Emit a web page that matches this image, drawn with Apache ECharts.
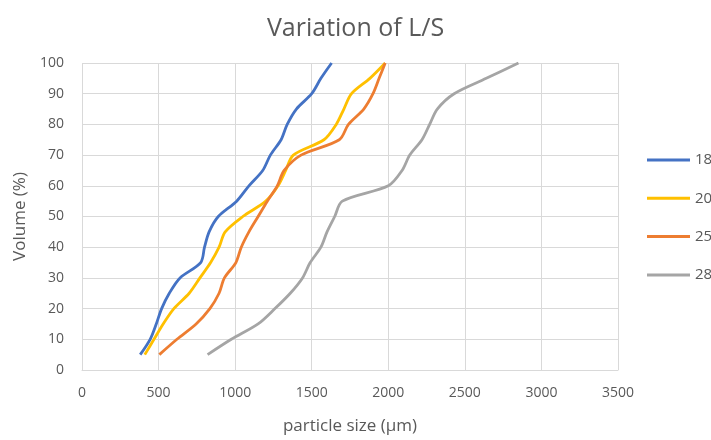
<!DOCTYPE html>
<html><head><meta charset="utf-8">
<script src="https://cdn.jsdelivr.net/npm/echarts@6/dist/echarts.min.js"></script>
<style>html,body{margin:0;padding:0;background:#fff}#c{width:711px;height:440px}</style>
</head><body><div id="c"></div>
<script>
const volumes = [5,10,15,20,25,30,35,40,45,50,55,60,65,70,75,80,85,90,95,100];
const size18 = [380,445,485,520,570,640,775,800,830,890,1010,1090,1180,1230,1300,1340,1400,1500,1560,1630];
const size20 = [410,470,530,600,700,770,840,895,935,1050,1200,1280,1330,1380,1580,1660,1710,1760,1880,1980];
const size25 = [505,620,745,835,895,930,1005,1040,1090,1150,1210,1275,1320,1430,1680,1740,1840,1900,1940,1980];
const size28 = [820,975,1150,1260,1360,1440,1490,1560,1600,1650,1700,2000,2090,2140,2220,2270,2320,2430,2640,2850];
const seriesNames = ['18','20','25','28'];
const colors = ['#4472C4','#FFC000','#ED7D31','#A5A5A5'];
const sizes = [size18,size20,size25,size28];
const font = "'Open Sans', 'Noto Sans', sans-serif";
const txt = '#595959';
const chart = echarts.init(document.getElementById('c'));
chart.setOption({
  animation:false,
  title:{text:'Variation of L/S',left:'center',top:11,textStyle:{fontFamily:font,fontSize:25,fontWeight:'normal',color:txt}},
  grid:{left:82,right:93,top:63,bottom:63},
  legend:{orient:'vertical',left:642,top:147,itemWidth:43,itemHeight:3,itemGap:22.3,icon:'rect',
    textStyle:{fontFamily:font,fontSize:15,lineHeight:16,color:txt},
    data:seriesNames},
  xAxis:{type:'value',min:0,max:3500,interval:500,
    name:'particle size (\u03bcm)',nameLocation:'middle',nameGap:48,
    nameTextStyle:{fontFamily:font,fontSize:17,color:txt},
    axisLine:{show:true,lineStyle:{color:'#d9d9d9'}},axisTick:{show:false},
    axisLabel:{fontFamily:font,fontSize:14,color:txt,margin:16,formatter:v=>String(v)},
    splitLine:{show:true,lineStyle:{color:'#d9d9d9'}}},
  yAxis:{type:'value',min:0,max:100,interval:10,
    name:'Volume (%)',nameLocation:'middle',nameGap:52,nameRotate:90,
    nameTextStyle:{fontFamily:font,fontSize:17,color:txt},
    axisLine:{show:false},axisTick:{show:false},
    axisLabel:{fontFamily:font,fontSize:14,color:txt,margin:18,formatter:v=>String(v)},
    splitLine:{show:true,lineStyle:{color:'#d9d9d9'}}},
  series: seriesNames.map((n,i)=>({
    name:n,type:'line',smooth:0.3,symbol:'none',
    lineStyle:{width:2.8,color:colors[i]},itemStyle:{color:colors[i]},
    data: sizes[i].map((x,j)=>[x,volumes[j]])
  }))
});
</script></body></html>
